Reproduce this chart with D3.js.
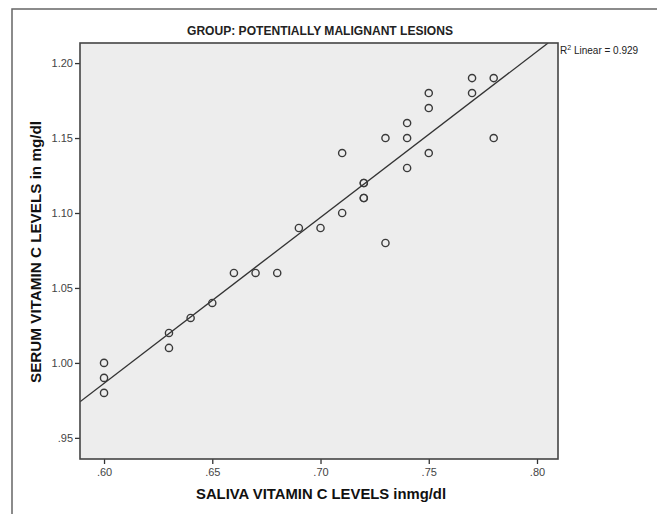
<!DOCTYPE html>
<html>
<head>
<meta charset="utf-8">
<script src="https://cdn.jsdelivr.net/npm/d3@7"></script>
<style>
  body { margin: 0; background: #fff; }
  svg text { font-family: "Liberation Sans", Arial, sans-serif; }
</style>
</head>
<body>
<div class="chart-container"></div>
<script>
//! DATA
const salivaLevels = [.60, .60, .60, .63, .63, .64, .65, .66, .67, .68, .69, .70, .71, .71,
  .72, .72, .72, .72, .73, .73, .74, .74, .74, .75, .75, .75, .77, .77, .78, .78]
const serumLevels = [1.00, .99, .98, 1.02, 1.01, 1.03, 1.04, 1.06, 1.06, 1.06, 1.09, 1.09, 1.14, 1.10,
  1.12, 1.12, 1.11, 1.11, 1.15, 1.08, 1.16, 1.15, 1.13, 1.18, 1.17, 1.14, 1.19, 1.18, 1.19, 1.15]
const xTicks = [.60, .65, .70, .75, .80]
const yTicks = [.95, 1.00, 1.05, 1.10, 1.15, 1.20]
const title = 'GROUP: POTENTIALLY MALIGNANT LESIONS'
const xTitle = 'SALIVA VITAMIN C LEVELS inmg/dl'
const yTitle = 'SERUM VITAMIN C LEVELS in mg/dl'
const r2Label = '0.929'

//! CONSTS
const width = 657
const height = 514
const plot = { left: 80, right: 558, top: 43, bottom: 459 }

const svg = d3.select('.chart-container')
  .append('svg')
  .attr('width', width)
  .attr('height', height)

const dataset = salivaLevels.map((x, i) => ({ x, y: serumLevels[i] }))

//! SCALES
const xScale = d3.scaleLinear()
  .domain([.5889, .8097])
  .range([plot.left, plot.right])

const yScale = d3.scaleLinear()
  .domain([.9359, 1.2134])
  .range([plot.bottom, plot.top])

// outer frame
svg.append('rect')
  .attr('x', 12).attr('y', 9)
  .attr('width', 700).attr('height', 600)
  .attr('fill', 'none')
  .attr('stroke', '#666')
  .attr('stroke-width', 1.5)

// plot background
svg.append('rect')
  .attr('x', plot.left).attr('y', plot.top)
  .attr('width', plot.right - plot.left)
  .attr('height', plot.bottom - plot.top)
  .attr('fill', '#ededed')

const fmt = d => d3.format('.2f')(d).replace(/^0/, '')

//! AXES
const xAxis = d3.axisBottom(xScale)
  .tickValues(xTicks)
  .tickFormat(fmt)
  .tickSize(5)
  .tickPadding(4)

const yAxis = d3.axisLeft(yScale)
  .tickValues(yTicks)
  .tickFormat(fmt)
  .tickSize(5)
  .tickPadding(2)

svg.append('g')
  .attr('transform', `translate(0,${plot.bottom})`)
  .call(xAxis)
  .call(g => g.select('.domain').remove())
  .call(g => g.selectAll('line').attr('stroke', '#333').attr('stroke-width', 1.3))
  .call(g => g.selectAll('text').attr('fill', '#444').style('font-size', '11px'))

svg.append('g')
  .attr('transform', `translate(${plot.left},0)`)
  .call(yAxis)
  .call(g => g.select('.domain').remove())
  .call(g => g.selectAll('line').attr('stroke', '#333').attr('stroke-width', 1.3))
  .call(g => g.selectAll('text').attr('fill', '#444').style('font-size', '11px'))

//! FIT LINE
const xm = d3.mean(dataset, d => d.x)
const ym = d3.mean(dataset, d => d.y)
const slope = d3.sum(dataset, d => (d.x - xm) * (d.y - ym)) / d3.sum(dataset, d => (d.x - xm) ** 2)
const intercept = ym - slope * xm
const [x0, x1] = xScale.domain()
const [y0, y1] = yScale.domain()
const xAtTop = (y1 - intercept) / slope
const lineEnd = Math.min(x1, xAtTop)

svg.append('clipPath').attr('id', 'clip')
  .append('rect')
  .attr('x', plot.left).attr('y', plot.top)
  .attr('width', plot.right - plot.left)
  .attr('height', plot.bottom - plot.top)

svg.append('line')
  .attr('clip-path', 'url(#clip)')
  .attr('x1', xScale(x0)).attr('y1', yScale(intercept + slope * x0))
  .attr('x2', xScale(lineEnd)).attr('y2', yScale(intercept + slope * lineEnd))
  .attr('stroke', '#333')
  .attr('stroke-width', 1.3)

//! DOTS
svg.selectAll('circle.dot')
  .data(dataset)
  .enter()
  .append('circle')
  .attr('class', 'dot')
  .attr('cx', d => xScale(d.x))
  .attr('cy', d => yScale(d.y))
  .attr('r', 3.6)
  .attr('fill', 'none')
  .attr('stroke', '#3a3a3a')
  .attr('stroke-width', 1.4)

// plot border
svg.append('rect')
  .attr('x', plot.left).attr('y', plot.top)
  .attr('width', plot.right - plot.left)
  .attr('height', plot.bottom - plot.top)
  .attr('fill', 'none')
  .attr('stroke', '#444')
  .attr('stroke-width', 1.6)

//! TEXTS
svg.append('text')
  .attr('x', 320).attr('y', 35)
  .attr('text-anchor', 'middle')
  .attr('textLength', 266)
  .attr('lengthAdjust', 'spacingAndGlyphs')
  .style('font-size', '13px')
  .style('font-weight', 'bold')
  .attr('fill', '#222')
  .text(title)

svg.append('text')
  .attr('x', 321).attr('y', 499)
  .attr('text-anchor', 'middle')
  .attr('textLength', 250)
  .attr('lengthAdjust', 'spacingAndGlyphs')
  .style('font-size', '15px')
  .style('font-weight', 'bold')
  .attr('fill', '#111')
  .text(xTitle)

svg.append('text')
  .attr('transform', 'translate(41,252) rotate(-90)')
  .attr('text-anchor', 'middle')
  .attr('textLength', 262)
  .attr('lengthAdjust', 'spacingAndGlyphs')
  .style('font-size', '15px')
  .style('font-weight', 'bold')
  .attr('fill', '#111')
  .text(yTitle)

const r2 = svg.append('text')
  .attr('x', 560).attr('y', 54)
  .style('font-size', '10px')
  .attr('fill', '#222')
r2.append('tspan').text('R')
r2.append('tspan').attr('dy', -4).style('font-size', '7px').text('2')
r2.append('tspan').attr('dy', 4).text(' Linear = ' + r2Label)
</script>
</body>
</html>
